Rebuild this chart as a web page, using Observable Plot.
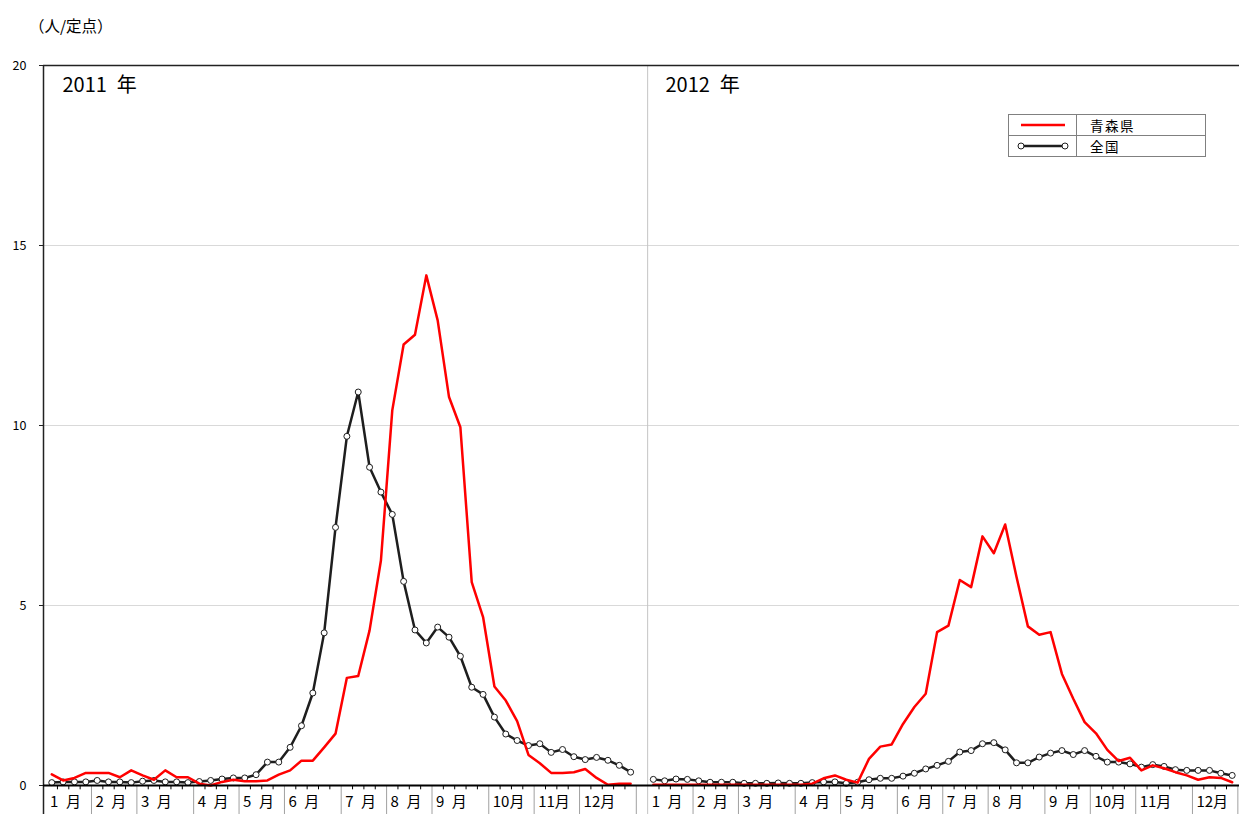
<!DOCTYPE html>
<html>
<head>
<meta charset="utf-8">
<script src="https://cdn.jsdelivr.net/npm/d3@7"></script>
<script src="https://cdn.jsdelivr.net/npm/@observablehq/plot@0.6"></script>
<style>
  body { margin: 0; background: #fff; font-family: "Noto Sans CJK JP", "Noto Sans", sans-serif; }
  #wrap { position: relative; width: 1239px; height: 814px; overflow: hidden; }
  #unit { position: absolute; left: 29px; top: 14px; font-size: 15.5px; line-height: 22px; color: #000; }
  #legend { position: absolute; left: 1008px; top: 114px; width: 196px; height: 41px; border: 1px solid #808080; background: #fff; }
  .lrow { display: flex; height: 20px; }
  .lrow + .lrow { border-top: 1px solid #808080; }
  .lkey { width: 67px; border-right: 1px solid #808080; display: flex; align-items: center; justify-content: center; }
  .ltxt { padding-left: 13px; font-size: 13.5px; line-height: 20px; height: 20px; color: #000; letter-spacing: 1.5px; }
</style>
</head>
<body>
<div id="wrap">
  <div id="chart"></div>
  <div id="unit">（人/定点）</div>
  <div id="legend"></div>
</div>
<script>
// ---- data ----
const years = [2011, 2012];
const seriesNames = ["青森県", "全国"];
const red2011 = [0.31,0.14,0.21,0.35,0.35,0.35,0.23,0.42,0.28,0.16,
                 0.42,0.23,0.23,0.05,0.0,0.1,0.16,0.12,0.12,0.14,
                 0.3,0.42,0.69,0.69,1.06,1.44,2.99,3.04,4.31,6.25,
                 10.42,12.25,12.52,14.17,12.92,10.79,9.95,5.65,4.68,2.75,
                 2.36,1.79,0.85,0.62,0.35,0.35,0.37,0.46,0.21,0.02,
                 0.05,0.05];
const black2011 = [0.08,0.1,0.1,0.1,0.14,0.1,0.1,0.08,0.12,0.14,
                   0.1,0.1,0.08,0.11,0.14,0.18,0.21,0.21,0.3,0.65,
                   0.65,1.06,1.66,2.57,4.24,7.17,9.7,10.93,8.84,8.15,
                   7.53,5.67,4.32,3.96,4.4,4.12,3.59,2.73,2.53,1.9,
                   1.43,1.25,1.11,1.16,0.92,1.0,0.8,0.72,0.78,0.7,
                   0.56,0.37];
const red2012 = [0.02,0.02,0.02,0.02,0.02,0.02,0.02,0.02,0.02,0.02,
                 0.02,0.02,0.02,0.02,0.05,0.2,0.28,0.16,0.08,0.74,
                 1.08,1.14,1.71,2.18,2.55,4.26,4.44,5.71,5.51,6.92,
                 6.45,7.25,5.79,4.42,4.19,4.26,3.1,2.41,1.76,1.45,
                 0.99,0.68,0.77,0.42,0.56,0.48,0.37,0.28,0.16,0.23,
                 0.21,0.09];
const black2012 = [0.17,0.13,0.18,0.17,0.13,0.09,0.09,0.09,0.06,0.06,
                   0.06,0.07,0.06,0.06,0.08,0.1,0.1,0.06,0.09,0.16,
                   0.2,0.2,0.26,0.34,0.46,0.56,0.67,0.93,0.97,1.16,
                   1.19,0.99,0.63,0.63,0.79,0.9,0.97,0.86,0.97,0.81,
                   0.65,0.65,0.6,0.51,0.58,0.53,0.44,0.42,0.42,0.42,
                   0.34,0.28];
const monthLabels = ["1\u2002月","2\u2002月","3\u2002月","4\u2002月","5\u2002月","6\u2002月",
                     "7\u2002月","8\u2002月","9\u2002月","10月","11月","12月"];
const monthWeeks2011 = [4,4,5,4,4,5,4,4,5,4,4,5];
const monthWeeks2012 = [4,4,5,4,5,4,4,5,4,4,5,4];
const yTicks = [0, 5, 10, 15, 20];
const yearLabels = ["2011\u2002年", "2012\u2002年"];

// ---- derived tables ----
const yearStart = {2011: 0, 2012: 53};   // slot offset of each year panel
const seriesData = {2011: {"青森県": red2011, "全国": black2011},
                    2012: {"青森県": red2012, "全国": black2012}};
const rows = [];
for (const yr of years) {
  for (const name of seriesNames) {
    seriesData[yr][name].forEach((v, i) => {
      rows.push({year: yr, series: name, week: i + 1, s: yearStart[yr] + i + 0.5, v});
    });
  }
}
const months = [];
const monthEnds = [];
for (const yr of years) {
  const mw = yr === 2011 ? monthWeeks2011 : monthWeeks2012;
  let c = yearStart[yr];
  mw.forEach((n, i) => {
    months.push({year: yr, label: monthLabels[i], start: c});
    c += n;
    monthEnds.push(c);
  });
}
const monthEndSet = new Set(monthEnds.concat([53]));
const weekTicks = d3.range(0, 106).filter(t => !monthEndSet.has(t) && t !== 0);

const xMin = -0.229, xMax = 105.145;
const yBottom = -0.81;

const redRows = rows.filter(d => d.series === "青森県");
const blackRows = rows.filter(d => d.series === "全国");

const chart = Plot.plot({
  width: 1239,
  height: 814,
  marginTop: 65,
  marginBottom: 29,
  marginLeft: 43,
  marginRight: 0,
  style: {fontFamily: "'Noto Sans CJK JP', 'Noto Sans', sans-serif", background: "#fff", overflow: "visible"},
  x: {domain: [xMin, xMax], axis: null},
  y: {domain: [0, 20]},
  marks: [
    Plot.ruleY([5, 10, 15], {stroke: "#d9d9d9", strokeWidth: 1}),
    Plot.ruleX([53], {y1: yBottom, y2: 20, stroke: "#c4c4c4", strokeWidth: 1}),
    Plot.ruleX(monthEnds.filter(t => t !== 53), {y1: 0, y2: yBottom, stroke: "#a0a0a0", strokeWidth: 1}),
    Plot.ruleX(weekTicks, {y1: 0, y2: -0.12, stroke: "#000", strokeWidth: 1}),
    Plot.ruleY([20], {stroke: "#222", strokeWidth: 1.5}),
    Plot.ruleX([xMin], {y1: yBottom, y2: 20, stroke: "#222", strokeWidth: 1.5}),
    Plot.axisY(yTicks, {tickSize: 4, tickPadding: 13, fontSize: 12.5, label: null, stroke: "#222"}),
    Plot.line(blackRows, {x: "s", y: "v", z: "year", stroke: "#1e1e1e", strokeWidth: 2.5}),
    Plot.dot(blackRows, {x: "s", y: "v", r: 3, fill: "#fff", stroke: "#1e1e1e", strokeWidth: 1}),
    Plot.line(redRows, {x: "s", y: "v", z: "year", stroke: "#ff0000", strokeWidth: 2.5}),
    Plot.ruleY([0], {stroke: "#000", strokeWidth: 2}),
    Plot.text(months, {x: "start", y: () => -0.45, text: "label", textAnchor: "start", dx: 4, fontSize: 15, fill: "#000"}),
    Plot.text(years, {x: d => (d === 2011 ? 1.44 : 54.57), y: () => 19.44, text: (d, i) => yearLabels[i],
                      textAnchor: "start", fontSize: 20, fill: "#000"})
  ]
});
document.getElementById("chart").appendChild(chart);

// ---- legend ----
const legend = d3.select("#legend");
seriesNames.forEach(name => {
  const row = legend.append("div").attr("class", "lrow");
  const key = row.append("div").attr("class", "lkey");
  const svg = key.append("svg").attr("width", 52).attr("height", 12);
  if (name === "青森県") {
    svg.append("line").attr("x1", 4).attr("x2", 48).attr("y1", 6).attr("y2", 6)
      .attr("stroke", "#ff0000").attr("stroke-width", 2.5);
  } else {
    svg.append("line").attr("x1", 4).attr("x2", 48).attr("y1", 6).attr("y2", 6)
      .attr("stroke", "#1e1e1e").attr("stroke-width", 2.5);
    [4, 48].forEach(cx => svg.append("circle").attr("cx", cx).attr("cy", 6).attr("r", 3)
      .attr("fill", "#fff").attr("stroke", "#1e1e1e").attr("stroke-width", 1));
  }
  row.append("div").attr("class", "ltxt").text(name);
});
</script>
</body>
</html>
